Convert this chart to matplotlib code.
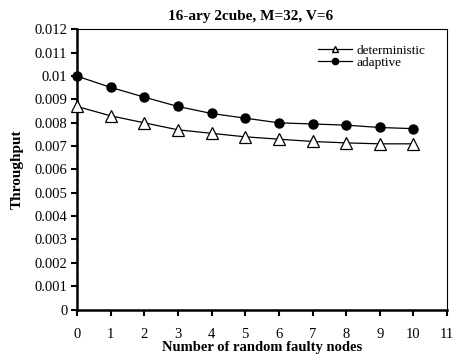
import matplotlib
matplotlib.use("Agg")
import matplotlib.pyplot as plt
from matplotlib.lines import Line2D

plt.rcParams['font.family'] = ['Liberation Serif', 'DejaVu Serif']

faulty_nodes = [0, 1, 2, 3, 4, 5, 6, 7, 8, 9, 10]
deterministic = [0.0087, 0.0083, 0.0080, 0.0077, 0.00755, 0.0074, 0.0073, 0.0072, 0.00714, 0.0071, 0.0071]
adaptive = [0.0100, 0.00952, 0.0091, 0.0087, 0.0084, 0.0082, 0.0080, 0.00795, 0.0079, 0.0078, 0.00775]
x_ticks = list(range(0, 12))
y_ticks = [0, 0.001, 0.002, 0.003, 0.004, 0.005, 0.006, 0.007, 0.008, 0.009, 0.01, 0.011, 0.012]
y_tick_labels = ['0', '0.001', '0.002', '0.003', '0.004', '0.005', '0.006', '0.007', '0.008', '0.009', '0.01', '0.011', '0.012']

fig = plt.figure(figsize=(4.53, 3.54), dpi=100)
ax = fig.add_axes([0.170, 0.1257, 0.817, 0.791])

ax.plot(faulty_nodes, deterministic, color='black', lw=0.9, marker='^', ms=8,
        markerfacecolor='white', markeredgecolor='black', markeredgewidth=0.9, zorder=3, clip_on=False)
ax.plot(faulty_nodes, adaptive, color='black', lw=0.9, marker='o', ms=6.5,
        markerfacecolor='black', markeredgecolor='black', zorder=3, clip_on=False)

ax.set_xlim(0, 11)
ax.set_ylim(0, 0.012)
ax.set_xticks(x_ticks)
ax.set_xticklabels([str(v) for v in x_ticks], fontsize=10.5)
ax.set_yticks(y_ticks)
ax.set_yticklabels(y_tick_labels, fontsize=10.5)

for side in ['left', 'bottom']:
    ax.spines[side].set_linewidth(1.8)
for side in ['top', 'right']:
    ax.spines[side].set_linewidth(0.8)
ax.tick_params(axis='y', direction='out', length=4, width=1.5, pad=3)
ax.tick_params(axis='x', direction='out', length=4, width=1.5, pad=9)

ax.set_title('16-ary 2cube, M=32, V=6', fontsize=11, fontweight='bold', pad=7, x=0.47)
ax.set_xlabel('Number of random faulty nodes', fontsize=10.5, fontweight='bold', labelpad=0)
ax.set_ylabel('Throughput', fontsize=11, fontweight='bold', labelpad=8)

handles = [
    Line2D([], [], color='black', lw=0.9, marker='^', ms=5, markerfacecolor='white', markeredgecolor='black'),
    Line2D([], [], color='black', lw=0.9, marker='o', ms=4.5, markerfacecolor='black'),
]
ax.legend(handles, ['deterministic', 'adaptive'], loc='upper right', frameon=False,
          fontsize=9.5, handlelength=2.6, handletextpad=0.3, labelspacing=0.0,
          bbox_to_anchor=(0.955, 0.965), borderaxespad=0)

fig.savefig('out.png', dpi=100)
